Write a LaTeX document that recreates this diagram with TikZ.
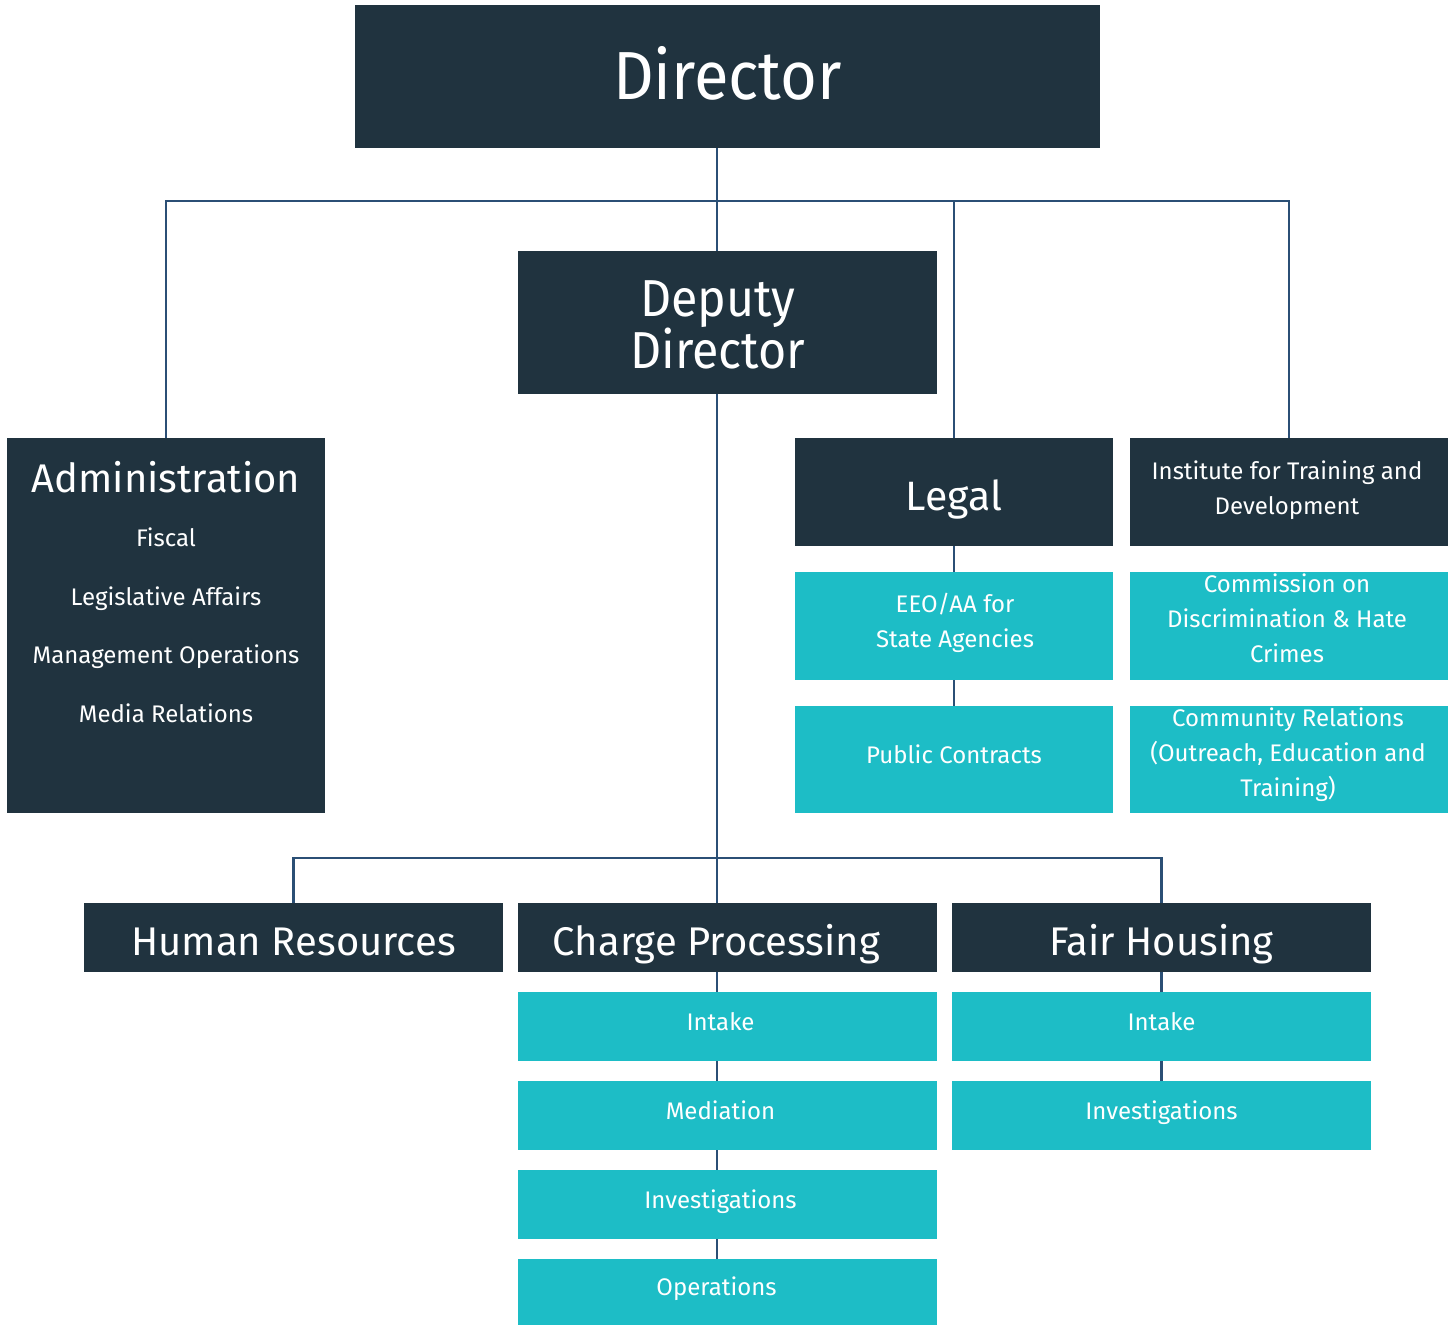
\documentclass[tikz,border=0pt]{standalone}
\usepackage{fontspec}
\setmainfont{Fira Sans}
\newfontfamily\headfont[FakeStretch=0.93]{Fira Sans}

\definecolor{boxdark}{HTML}{20333F}
\definecolor{boxteal}{HTML}{1DBDC6}
\definecolor{linkblue}{HTML}{2B4F75}

\tikzset{
  darkbox/.style={fill=boxdark, text=white, inner sep=0pt, align=center},
  tealbox/.style={fill=boxteal, text=white, inner sep=0pt, align=center, font=\fontsize{24}{35}\selectfont, text height=17pt, text depth=10pt},
  subtext/.style={text=white, anchor=base, inner sep=0pt, font=\fontsize{24}{35}\selectfont},
  blocktext/.style={text=white, anchor=north, inner sep=0pt, align=center, font=\fontsize{24}{35}\selectfont},
  unitbox/.style={darkbox, minimum width=419, minimum height=69, font=\fontsize{40}{40}\selectfont, text height=35pt, text depth=0pt},
  link/.style={draw=linkblue, line width=2.5pt},
}

\begin{document}
\begin{tikzpicture}[x=1pt, y=-1pt]
\useasboundingbox (0,0) rectangle (1453,1325);

\node[darkbox, minimum width=745, minimum height=143, font=\headfont\fontsize{68}{68}\selectfont, text height=46pt, text depth=0pt] (dir) at (727.5,76.5) {Director};
\node[darkbox, minimum width=419, minimum height=143] (dep) at (727.5,322.5) {};
\node[blocktext, font=\headfont\fontsize{52}{49.5}\selectfont] (depT) at (718,280) {Deputy\\Director};

% administration block
\node[darkbox, minimum width=318, minimum height=375] (adm) at (166,625.5) {};
\node[subtext, font=\fontsize{40}{40}\selectfont] (admT) at (166,492.5) {Administration};
\node[subtext] (fis) at (166,546) {Fiscal};
\node[subtext] (leq) at (166,605) {Legislative Affairs};
\node[subtext] (mgt) at (166,663) {Management Operations};
\node[subtext] (med) at (166,722) {Media Relations};

% legal and institute
\node[darkbox, minimum width=318, minimum height=108, font=\fontsize{41}{41}\selectfont, text height=36pt, text depth=0pt] (leg) at (954,492) {Legal};
\node[darkbox, minimum width=318, minimum height=108] (itd) at (1289,492) {};
\node[blocktext] (itdT) at (1287,461) {Institute for Training and\\Development};
\node[tealbox, minimum width=318, minimum height=108] (eeo) at (954,626) {};
\node[blocktext] (eeoT) at (955,593) {EEO/AA for\\State Agencies};
\node[tealbox, minimum width=318, minimum height=108] (cdh) at (1289,626) {};
\node[blocktext] (cdhT) at (1287,574) {Commission on\\Discrimination \& Hate\\Crimes};
\node[tealbox, minimum width=318, minimum height=107] (pub) at (954,759.5) {Public Contracts};
\node[tealbox, minimum width=318, minimum height=107] (com) at (1289,759.5) {};
\node[blocktext] (comT) at (1288,708) {Community Relations\\(Outreach, Education and\\Training)};

% lower units
\node[unitbox] (hr) at (293.5,937.5) {Human Resources};
\node[unitbox] (cp) at (727.5,937.5) {Charge Processing\hspace*{22pt}};
\node[unitbox] (fh) at (1161.5,937.5) {Fair Housing};

\node[tealbox, minimum width=419, minimum height=69] (cpi) at (727.5,1026.5) {Intake\hspace*{14pt}};
\node[tealbox, minimum width=419, minimum height=69] (cpm) at (727.5,1115.5) {Mediation\hspace*{14pt}};
\node[tealbox, minimum width=419, minimum height=69] (cpv) at (727.5,1204.5) {Investigations\hspace*{14pt}};
\node[tealbox, minimum width=419, minimum height=66] (cpo) at (727.5,1292) {Operations\hspace*{22pt}};
\node[tealbox, minimum width=419, minimum height=69] (fhi) at (1161.5,1026.5) {Intake};
\node[tealbox, minimum width=419, minimum height=69] (fhv) at (1161.5,1115.5) {Investigations};

\coordinate (spine) at (717,0);
\coordinate (busA) at (717,201);
\coordinate (busB) at (717,858);

\draw[link] (dir.south -| spine) -- (dep.north -| spine);
\draw[link] (adm.north) |- (busA) -| (itd.north);
\draw[link] (leg.north) -- (leg.north |- busA);
\draw[link] (leg.south) -- (eeo.north);
\draw[link] (eeo.south) -- (pub.north);

\draw[link] (dep.south -| spine) -- (cp.north -| spine);
\draw[link] (hr.north) |- (busB) -| (fh.north);
\foreach \a/\b in {cp/cpi, cpi/cpm, cpm/cpv, cpv/cpo}
  \draw[link] (\a.south -| spine) -- (\b.north -| spine);
\draw[link] (fh.south) -- (fhi.north);
\draw[link] (fhi.south) -- (fhv.north);
\end{tikzpicture}
\end{document}
